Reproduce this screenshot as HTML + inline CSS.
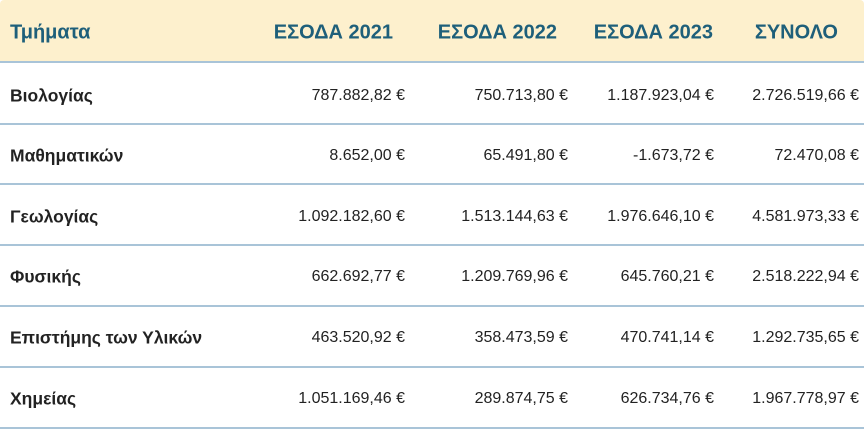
<!DOCTYPE html>
<html><head><meta charset="utf-8"><style>
body{margin:0;width:868px;height:430px;background:#fff;font-family:"Liberation Sans","DejaVu Sans",sans-serif;position:relative;overflow:hidden}
.hdr{position:absolute;left:0;top:0;width:864px;height:62px;background:#fdf0cd;border-radius:4px 4px 0 0}
.line{position:absolute;left:0;width:864px;height:2px;background:#a9c4d8}
.t{position:absolute;white-space:nowrap;transform:translateY(-50%)}
.h{font-weight:bold;color:#1e5f7a;font-size:20px}
.l{font-weight:bold;color:#222;font-size:17.5px;left:10px}
.v{color:#222;font-size:16px;text-align:right}
</style></head><body>
<div class="hdr"></div>
<div class="t h" style="left:10px;top:33px">Τμήματα</div>
<div class="t h" style="right:475px;top:33px">ΕΣΟΔΑ 2021</div>
<div class="t h" style="right:311px;top:33px">ΕΣΟΔΑ 2022</div>
<div class="t h" style="right:155px;top:33px">ΕΣΟΔΑ 2023</div>
<div class="t h" style="right:30px;top:33px">ΣΥΝΟΛΟ</div>
<div class="line" style="top:61px"></div>
<div class="line" style="top:123px"></div>
<div class="line" style="top:183px"></div>
<div class="line" style="top:244px"></div>
<div class="line" style="top:305px"></div>
<div class="line" style="top:366px"></div>
<div class="line" style="top:427px"></div>

<div class="t l" style="top:96px">Βιολογίας</div>
<div class="t v" style="right:463px;top:96px">787.882,82 €</div>
<div class="t v" style="right:300px;top:96px">750.713,80 €</div>
<div class="t v" style="right:154px;top:96px">1.187.923,04 €</div>
<div class="t v" style="right:9px;top:96px">2.726.519,66 €</div>

<div class="t l" style="top:156px">Μαθηματικών</div>
<div class="t v" style="right:463px;top:156px">8.652,00 €</div>
<div class="t v" style="right:300px;top:156px">65.491,80 €</div>
<div class="t v" style="right:154px;top:156px">-1.673,72 €</div>
<div class="t v" style="right:9px;top:156px">72.470,08 €</div>

<div class="t l" style="top:217px">Γεωλογίας</div>
<div class="t v" style="right:463px;top:217px">1.092.182,60 €</div>
<div class="t v" style="right:300px;top:217px">1.513.144,63 €</div>
<div class="t v" style="right:154px;top:217px">1.976.646,10 €</div>
<div class="t v" style="right:9px;top:217px">4.581.973,33 €</div>

<div class="t l" style="top:277px">Φυσικής</div>
<div class="t v" style="right:463px;top:277px">662.692,77 €</div>
<div class="t v" style="right:300px;top:277px">1.209.769,96 €</div>
<div class="t v" style="right:154px;top:277px">645.760,21 €</div>
<div class="t v" style="right:9px;top:277px">2.518.222,94 €</div>

<div class="t l" style="top:338px">Επιστήμης των Υλικών</div>
<div class="t v" style="right:463px;top:338px">463.520,92 €</div>
<div class="t v" style="right:300px;top:338px">358.473,59 €</div>
<div class="t v" style="right:154px;top:338px">470.741,14 €</div>
<div class="t v" style="right:9px;top:338px">1.292.735,65 €</div>

<div class="t l" style="top:399px">Χημείας</div>
<div class="t v" style="right:463px;top:399px">1.051.169,46 €</div>
<div class="t v" style="right:300px;top:399px">289.874,75 €</div>
<div class="t v" style="right:154px;top:399px">626.734,76 €</div>
<div class="t v" style="right:9px;top:399px">1.967.778,97 €</div>
</body></html>
